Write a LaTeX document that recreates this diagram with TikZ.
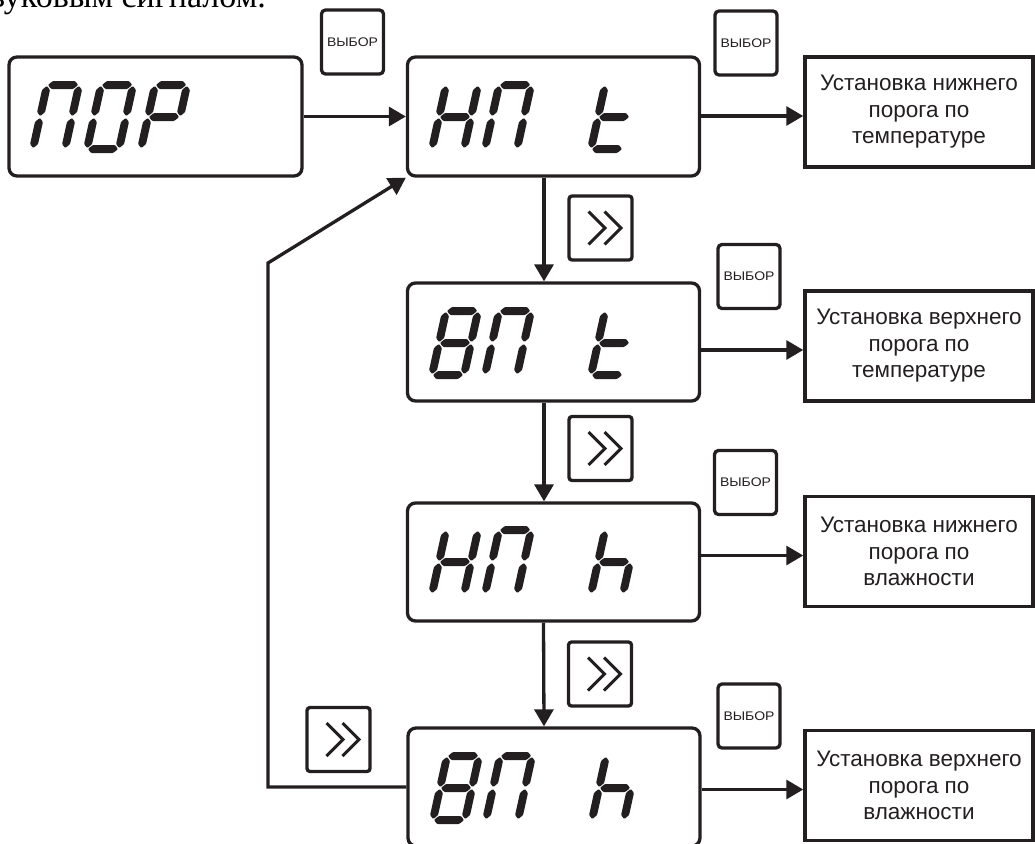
\documentclass[tikz,border=0pt]{standalone}
\usepackage{fontspec}
\usepackage{graphicx}
\setmainfont{Liberation Sans}
\newfontfamily\bodyserif{Liberation Serif}
\usetikzlibrary{arrows.meta}

\definecolor{ink}{RGB}{35,31,32}

% seven-segment glyph pieces (local units, y upwards), half thickness 4
\newcommand\lcdh[3]{\fill (#1,#3) -- (#1+4,#3+4) -- (#2-4,#3+4) -- (#2,#3) -- (#2-4,#3-4) -- (#1+4,#3-4) -- cycle;}
\newcommand\lcdv[3]{\fill (#1,#2) -- (#1+4,#2+4) -- (#1+4,#3-4) -- (#1,#3) -- (#1-4,#3-4) -- (#1-4,#2+4) -- cycle;}
\newcommand\lcdsega{\lcdh{0.9}{31.1}{64}}
\newcommand\lcdsegb{\lcdv{32}{32.9}{63.1}}
\newcommand\lcdsegc{\lcdv{32}{0.9}{31.1}}
\newcommand\lcdsegd{\lcdh{0.9}{31.1}{0}}
\newcommand\lcdsege{\lcdv{0}{0.9}{31.1}}
\newcommand\lcdsegf{\lcdv{0}{32.9}{63.1}}
\newcommand\lcdsegg{\lcdh{0.9}{31.1}{32}}
% one italic digit: #1,#2 = lower left corner, #3 = lit segments
\newcommand\lcddigit[3]{%
  \begin{scope}[shift={(#1+4,#2-4)}, yscale=-1, xslant=-0.22, rounded corners=1pt]
    \foreach \s in {#3} {\csname lcdseg\s\endcsname}
  \end{scope}}

\tikzset{
  lcd/.style={draw=ink, line width=3.3pt, rounded corners=8pt, minimum width=292pt,
              minimum height=118pt, inner sep=0pt},
  action/.style={draw=ink, line width=3.5pt, minimum width=228pt, minimum height=110pt,
                 align=center, font=\fontsize{22.5}{26.5}\selectfont, text=ink, inner sep=0pt},
  selkey/.style={draw=ink, line width=3.3pt, rounded corners=4pt, minimum width=62pt,
                 minimum height=64pt, inner sep=0pt, text=ink,
                 font=\fontsize{12.5}{13}\selectfont},
  nextkey/.style={draw=ink, line width=3.3pt, rounded corners=3pt, minimum width=63pt,
                  minimum height=64pt, inner sep=0pt},
  chevron/.style={draw=ink, line width=3pt},
  arr/.style={draw=ink, line width=3.3pt, -{Triangle[length=17pt,width=19pt]}},
}

\begin{document}
\begin{tikzpicture}[x=1pt, y=-1pt, color=ink]
\useasboundingbox (0,0) rectangle (1035,843);
\clip (0,0) rectangle (1035,843);

% tail of the preceding paragraph
\node[anchor=base east, inner sep=0pt, font=\bodyserif\fontsize{34}{40}\selectfont, text=black]
  (tail) at (266,8) {звуковым сигналом.};

% displays
\node[lcd, minimum width=293pt, minimum height=119pt] (por) at (155.5,116.5) {};
\node[lcd, minimum height=119pt] (d1) at (553.5,116.5) {};
\node[lcd] (d2) at (553.5,342) {};
\node[lcd] (d3) at (553.5,562) {};
\node[lcd] (d4) at (554,787) {};

% display contents
\lcddigit{29}{153}{a,b,c,e,f}
\lcddigit{83}{153}{a,b,c,d,e,f}
\lcddigit{137}{153}{a,b,e,f,g}

\lcddigit{428}{153}{b,c,e,f,g}
\lcddigit{481}{153}{a,b,c,e,f}
\lcddigit{587}{153}{d,e,f,g}

\lcddigit{428}{379}{a,b,c,d,e,f,g}
\lcddigit{481}{379}{a,b,c,e,f}
\lcddigit{587}{379}{d,e,f,g}

\lcddigit{428}{598}{b,c,e,f,g}
\lcddigit{481}{598}{a,b,c,e,f}
\lcddigit{587}{598}{c,e,f,g}

\lcddigit{429}{824}{a,b,c,d,e,f,g}
\lcddigit{482}{824}{a,b,c,e,f}
\lcddigit{588}{824}{c,e,f,g}

% actions
\node[action] (r1) at (919,112) {Установка нижнего\\порога по\\температуре};
\node[action] (r2) at (919,346) {Установка верхнего\\порога по\\температуре};
\node[action] (r3) at (919,551.5) {Установка нижнего\\порога по\\влажности};
\node[action] (r4) at (919,785.5) {Установка верхнего\\порога по\\влажности};

% select keys
\node[selkey] (k0) at (352.5,42) {\scalebox{1.12}[1]{ВЫБОР}};
\node[selkey] (k1) at (746,43) {\scalebox{1.12}[1]{ВЫБОР}};
\node[selkey] (k2) at (749,276.5) {\scalebox{1.12}[1]{ВЫБОР}};
\node[selkey] (k3) at (745.5,482.5) {\scalebox{1.12}[1]{ВЫБОР}};
\node[selkey] (k4) at (749,716) {\scalebox{1.12}[1]{ВЫБОР}};

% next keys
\node[nextkey] (n1) at (600.5,228) {};
\node[nextkey] (n2) at (600.5,448.5) {};
\node[nextkey] (n3) at (600,674) {};
\node[nextkey] (n4) at (338.5,739.5) {};
\foreach \k in {n1,n2,n3,n4} {
  \draw[chevron] (\k) ++(-12,-16.5) -- ++(16.5,16.5) -- ++(-16.5,16.5);
  \draw[chevron] (\k) ++(4,-16.5) -- ++(16.5,16.5) -- ++(-16.5,16.5);
}

% transitions
\draw[arr] (por.east) -- (d1.west);
\draw[arr] ([xshift=-9.5pt]d1.south) -- ([xshift=-9.5pt]d2.north);
\draw[arr] ([xshift=-9.5pt]d2.south) -- ([xshift=-9.5pt]d3.north);
\draw[arr] ([xshift=-10pt]d3.south) -- ([xshift=-10pt]d4.north);

\foreach \i in {1,2,3,4} {
  \coordinate (a\i) at ([yshift=-4pt]r\i.west);
  \draw[arr] (d\i.east |- a\i) -- (a\i);
}

% return from the last item to the first
\coordinate (turn) at (268,263);
\draw[arr] (d4.west) -| (turn) -- (d1.south west);
\end{tikzpicture}
\end{document}
